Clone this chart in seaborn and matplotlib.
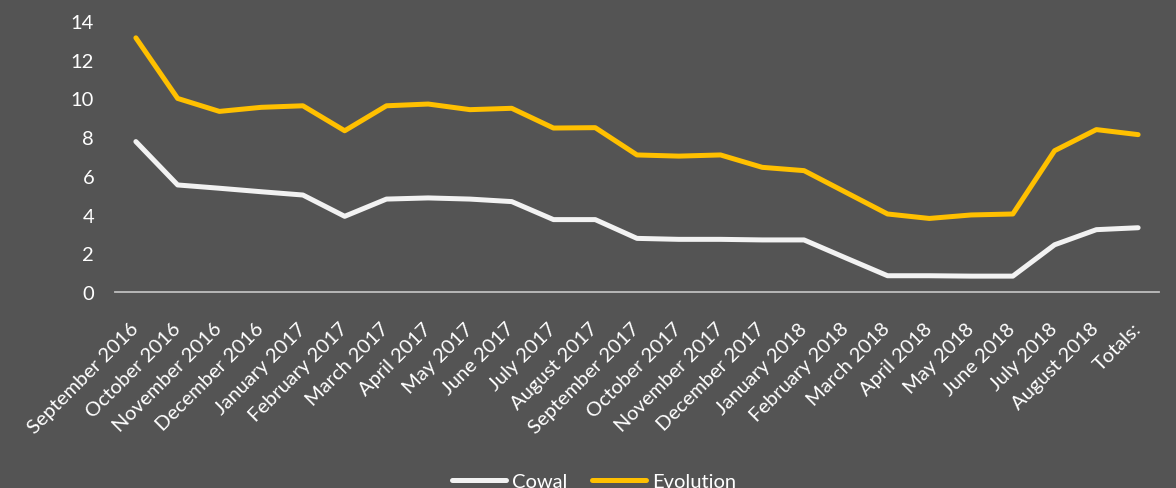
import matplotlib
matplotlib.use("Agg")
import matplotlib.pyplot as plt
import seaborn as sns
import pandas as pd

months = ["September 2016", "October 2016", "November 2016", "December 2016",
          "January 2017", "February 2017", "March 2017", "April 2017", "May 2017",
          "June 2017", "July 2017", "August 2017", "September 2017", "October 2017",
          "November 2017", "December 2017", "January 2018", "February 2018",
          "March 2018", "April 2018", "May 2018", "June 2018", "July 2018",
          "August 2018", "Totals:"]
cowal = [7.77, 5.53, 5.36, 5.18, 5.01, 3.91, 4.80, 4.86, 4.80, 4.67, 3.74, 3.74,
         2.77, 2.72, 2.72, 2.69, 2.69, 1.76, 0.84, 0.84, 0.82, 0.82, 2.44, 3.22, 3.32]
evolution = [13.13, 10.0, 9.33, 9.54, 9.62, 8.33, 9.62, 9.71, 9.42, 9.49, 8.47, 8.49,
             7.08, 7.02, 7.08, 6.44, 6.27, 5.15, 4.03, 3.80, 3.98, 4.03, 7.30, 8.39, 8.13]
series = ["Cowal", "Evolution"]
colors = ["#F2F2F2", "#FFC000"]

df = pd.DataFrame({
    "pos": list(range(len(months))) * 2,
    "value": cowal + evolution,
    "series": [series[0]] * len(months) + [series[1]] * len(months),
})

BG = "#545454"
sns.set_theme(style="white")
plt.rcParams["font.family"] = ["Lato", "DejaVu Sans"]

fig = plt.figure(figsize=(11.76, 4.89), dpi=100, facecolor=BG)
ax = fig.add_axes([115 / 1176, 1 - 293 / 489, (1159 - 115) / 1176, (293 - 22) / 489])
ax.set_facecolor(BG)

sns.lineplot(data=df, x="pos", y="value", hue="series", palette=colors,
             linewidth=3.6, ax=ax, legend=True, sort=False)
for ln in ax.get_lines():
    ln.set_solid_capstyle("round")
    ln.set_solid_joinstyle("round")
    ln.set_clip_on(False)

ax.set_xlim(-0.5, len(months) - 0.5)
ax.set_ylim(0, 14)
ax.set_yticks(range(0, 15, 2))
ax.set_xticks(range(len(months)))
ax.set_xticklabels(months, rotation=45, ha="right", va="center",
                   rotation_mode="anchor")
ax.tick_params(axis="both", length=0, colors="white", labelsize=14.5)
ax.tick_params(axis="y", pad=15)
ax.tick_params(axis="x", pad=24)
ax.set_xlabel("")
ax.set_ylabel("")
for s in ["top", "right", "left"]:
    ax.spines[s].set_visible(False)
ax.spines["bottom"].set_color("#BFBFBF")
ax.spines["bottom"].set_linewidth(1.3)
ax.grid(False)

handles, labels = ax.get_legend_handles_labels()
ax.get_legend().remove()
leg = fig.legend(handles, labels, loc="center", bbox_to_anchor=(0.505, 0.014),
                 ncol=2, frameon=False, fontsize=14.5, handlelength=2.7,
                 columnspacing=1.2, handletextpad=0.3, labelcolor="white")
for h in leg.legend_handles:
    h.set_linewidth(3.6)
    h.set_solid_capstyle("round")

fig.savefig("out.png", dpi=100, facecolor=BG)
